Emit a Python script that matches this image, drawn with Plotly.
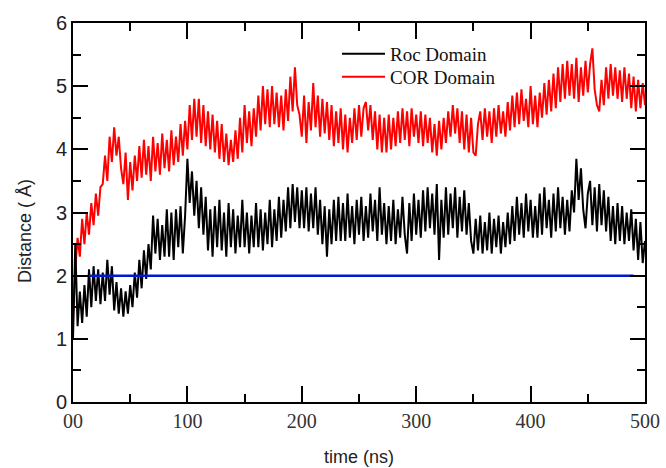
import plotly.graph_objects as go

# time axis (ns), one sample every 2 ns
time_ns = list(range(0, 501, 2))

roc_domain = [
    1.0, 2.5, 1.2, 1.75, 1.25, 1.85, 1.35, 2.1, 1.5, 2.15,
    1.6, 2.1, 1.55, 2.05, 1.6, 2.25, 1.7, 2.15, 1.45, 1.9,
    1.4, 1.8, 1.35, 1.75, 1.4, 1.85, 1.5, 2.05, 1.65, 2.25,
    1.8, 2.4, 1.95, 2.5, 2.1, 2.95, 2.35, 2.9, 2.25, 2.8,
    2.3, 3.05, 2.3, 3.0, 2.25, 3.05, 2.45, 3.1, 2.35, 2.95,
    3.85, 3.15, 3.65, 2.95, 3.5, 2.75, 3.4, 2.65, 3.25, 2.4,
    3.05, 2.3, 3.1, 2.45, 3.2, 2.4, 3.0, 2.3, 3.15, 2.45,
    3.05, 2.35, 2.95, 2.45, 3.2, 2.45, 3.0, 2.35, 2.95, 2.45,
    3.15, 2.45, 3.05, 2.4, 3.0, 2.5, 3.2, 2.45, 3.05, 2.55,
    3.25, 2.6, 3.2, 2.7, 3.4, 2.75, 3.45, 2.85, 3.4, 2.75,
    3.35, 2.75, 3.4, 2.7, 3.3, 2.75, 3.4, 2.65, 3.2, 2.5,
    3.1, 2.3, 3.05, 2.5, 3.2, 2.55, 3.25, 2.55, 3.15, 2.55,
    3.3, 2.6, 3.1, 2.5, 3.2, 2.65, 3.25, 2.55, 3.1, 2.6,
    3.3, 2.7, 3.2, 2.55, 3.4, 2.65, 3.15, 2.5, 3.1, 2.55,
    3.2, 2.5, 3.05, 2.6, 3.25, 2.65, 2.35, 3.15, 2.55, 3.3,
    2.65, 3.2, 2.6, 3.35, 2.7, 3.4, 2.75, 3.3, 2.65, 3.45,
    2.25, 3.2, 2.6, 3.4, 2.65, 3.3, 2.75, 3.4, 2.6, 3.25,
    2.7, 3.35, 2.65, 3.15, 2.55, 2.35, 2.9, 2.4, 2.95, 2.35,
    2.85, 2.4, 3.0, 2.35, 2.9, 2.45, 2.95, 2.35, 2.85, 2.45,
    3.0, 2.5, 3.1, 2.55, 3.25, 2.65, 3.15, 2.6, 3.3, 2.7,
    3.2, 2.6, 3.1, 2.6, 3.3, 2.65, 3.4, 2.75, 3.2, 2.6,
    3.3, 2.7, 3.4, 2.75, 3.25, 2.65, 3.2, 2.7, 3.35, 3.0,
    3.85, 3.2, 3.7, 3.05, 2.75, 3.3, 3.5, 2.8, 3.4, 2.7,
    3.45, 2.8, 3.35, 2.7, 3.25, 2.55, 3.1, 2.5, 3.15, 2.55,
    3.1, 2.5, 3.0, 2.55, 3.05, 2.4, 2.9, 2.25, 2.85, 2.2,
    2.55,
]

cor_domain = [
    1.3, 2.1, 2.6, 2.3, 2.9, 2.5, 3.0, 2.65, 3.15, 2.8,
    3.3, 2.95, 3.4, 3.45, 3.9, 3.5, 4.2, 3.8, 4.35, 3.9,
    4.2, 3.7, 3.45, 3.95, 3.2, 3.8, 3.35, 3.9, 3.5, 4.05,
    3.55, 4.15, 3.6, 4.05, 3.5, 4.2, 3.65, 4.1, 3.6, 4.25,
    3.7, 4.15, 3.65, 4.3, 3.75, 4.2, 3.8, 4.4, 3.9, 4.45,
    4.0, 4.7, 4.15, 4.8, 4.2, 4.8, 4.1, 4.7, 4.05, 4.6,
    4.0, 4.55, 3.95, 4.45, 3.85, 4.4, 3.8, 4.25, 3.75, 4.15,
    3.8, 4.3, 3.85, 4.5, 3.95, 4.7, 4.1, 4.6, 4.05, 4.65,
    4.2, 4.85, 4.3, 5.0, 4.4, 4.95, 4.35, 5.0, 4.4, 4.9,
    4.35, 4.85, 4.3, 4.95, 4.45, 5.15, 4.6, 5.3, 4.7, 4.55,
    4.2, 4.85, 4.1, 4.75, 4.3, 5.05, 4.35, 4.85, 4.2, 4.8,
    4.25, 4.75, 4.15, 4.7, 4.05, 4.6, 4.1, 4.65, 4.0, 4.55,
    3.95, 4.5, 4.1, 4.65, 4.15, 4.7, 4.2, 4.65, 4.75, 4.3,
    4.7, 4.15, 4.6, 4.0, 4.55, 3.95, 4.5, 3.95, 4.55, 4.0,
    4.5, 4.05, 4.6, 4.1, 4.65, 4.15, 4.6, 4.05, 4.65, 4.2,
    4.55, 4.1, 4.6, 4.05, 4.55, 4.1, 4.5, 3.95, 4.4, 3.9,
    4.45, 4.0, 4.5, 4.1, 4.6, 4.2, 4.7, 4.25, 4.65, 4.1,
    4.6, 4.0, 4.55, 3.95, 4.5, 3.95, 3.9, 4.4, 4.6, 4.15,
    4.65, 4.2, 4.6, 4.1, 4.65, 4.2, 4.7, 4.25, 4.6, 4.2,
    4.75, 4.3, 4.85, 4.35, 4.9, 4.4, 4.95, 4.45, 4.8, 4.35,
    5.0, 4.4, 4.85, 4.35, 4.9, 4.5, 5.05, 4.55, 5.1, 4.6,
    5.2, 4.65, 5.3, 4.75, 5.35, 4.8, 5.4, 4.85, 5.35, 4.8,
    5.45, 4.75, 5.3, 4.85, 5.4, 4.9, 5.35, 5.6, 4.95, 4.7,
    4.6, 5.1, 4.7, 5.3, 4.8, 5.35, 4.85, 5.3, 4.8, 5.25,
    4.75, 5.3, 4.8, 5.2, 4.65, 5.15, 4.6, 5.1, 4.65, 5.05,
    4.7,
]

ref_x = [14, 490]
ref_y = [2.0, 2.0]

x_tickvals = [0, 100, 200, 300, 400, 500]
x_ticktext = ["00", "100", "200", "300", "400", "500"]
y_tickvals = [0, 1, 2, 3, 4, 5, 6]

fig = go.Figure()
fig.add_trace(go.Scatter(x=time_ns, y=cor_domain, mode="lines", name="COR Domain",
                         line=dict(color="#ff0000", width=2), legend="legend2"))
fig.add_trace(go.Scatter(x=time_ns, y=roc_domain, mode="lines", name="Roc Domain",
                         line=dict(color="#000000", width=2), legend="legend"))
fig.add_trace(go.Scatter(x=ref_x, y=ref_y, mode="lines", showlegend=False,
                         line=dict(color="#0018d0", width=2.5)))

axis_common = dict(showline=True, linecolor="black", linewidth=2, mirror="ticks",
                   ticks="inside", tickcolor="black", tickwidth=2,
                   showgrid=False, zeroline=False, automargin=False)

legend_common = dict(xanchor="left", yanchor="middle", bgcolor="rgba(0,0,0,0)",
                     font=dict(family="Liberation Serif", size=19, color="#111"),
                     itemwidth=43, borderwidth=0)

fig.update_layout(
    width=666, height=468,
    margin=dict(l=73, r=21, t=23, b=66),
    paper_bgcolor="white", plot_bgcolor="white",
    xaxis=dict(range=[0, 500], tickvals=x_tickvals, ticktext=x_ticktext, ticklen=16,
               minor=dict(ticks="inside", ticklen=8, tickwidth=2, tickcolor="black", dtick=50),
               tickfont=dict(family="Liberation Serif", size=20, color="#333"),
               title=dict(text="time (ns)", font=dict(family="Liberation Sans", size=18, color="#222"),
                          standoff=19),
               **axis_common),
    yaxis=dict(range=[0, 6], tickvals=y_tickvals, ticklen=15,
               minor=dict(ticks="inside", ticklen=8, tickwidth=2, tickcolor="black", dtick=0.5),
               tickfont=dict(family="Liberation Sans", size=20, color="#222"),
               **axis_common),
    annotations=[dict(text="Distance ( Å)", xref="paper", yref="paper",
                      x=(25 - 73) / 572, y=(402 - 231) / 379, textangle=-90,
                      showarrow=False, xanchor="center", yanchor="middle",
                      font=dict(family="Liberation Sans", size=18, color="#222"))],
    legend=dict(x=0.4615, y=(402 - 54) / 379, **legend_common),
    legend2=dict(x=0.4615, y=(402 - 77) / 379, **legend_common),
)

fig.write_html("out.html")
